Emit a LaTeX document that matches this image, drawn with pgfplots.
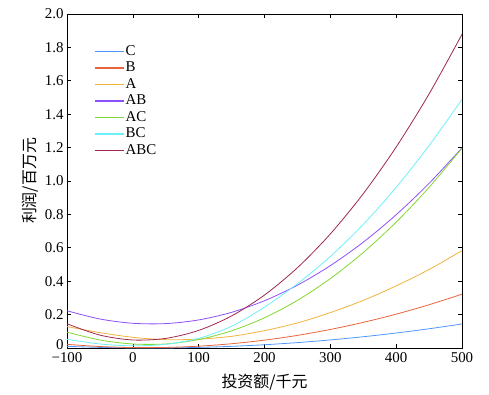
\documentclass[border=0pt]{standalone}
\usepackage{fontspec}
\setmainfont{Liberation Serif}
\newfontfamily\cjk{Noto Sans CJK SC}
\usepackage{pgfplots}
\pgfplotsset{compat=1.18}
\definecolor{cC}{RGB}{80,150,255}
\definecolor{cB}{RGB}{232,100,60}
\definecolor{cA}{RGB}{242,178,60}
\definecolor{cAB}{RGB}{140,80,250}
\definecolor{cAC}{RGB}{130,215,50}
\definecolor{cBC}{RGB}{110,240,250}
\definecolor{cABC}{RGB}{160,40,75}
\begin{document}
\begin{tikzpicture}
\begin{axis}[
  name=ax,
  scale only axis, width=395bp, height=334bp,
  xmin=-100, xmax=500, ymin=0, ymax=2,
  xtick={-100,0,100,200,300,400,500},
  xticklabels={−100,0,100,200,300,400,500},
  ytick={0,0.2,0.4,0.6,0.8,1.0,1.2,1.4,1.6,1.8,2.0},
  yticklabels={\smash{\raisebox{-1bp}{0}},0.2,0.4,0.6,0.8,1.0,1.2,1.4,1.6,1.8,2.0},
  tick align=inside, major tick length=4bp,
  tick style={black, line width=0.6bp},
  axis line style={line width=0.8bp},
  font=\fontsize{15}{17}\selectfont,
  xticklabel style={yshift=-1.5bp},
  xlabel={\cjk\fontsize{16}{18}\selectfont 投资额/千元}, ylabel={\cjk\fontsize{16}{18}\selectfont 利润/百万元},
  xlabel style={yshift=-4bp},
  legend cell align=left,
  legend style={draw=none, fill=none, at={(0.06,0.918)}, anchor=north west,
    font=\fontsize{15}{17}\selectfont,
    nodes={inner sep=1bp, text height=10.5bp, text depth=4bp}, row sep=0pt},
  legend image code/.code={\draw[#1, line width=1.7bp] (0bp,0.25bp) -- (29bp,0.25bp);},
  every axis plot/.append style={line width=0.8bp, smooth, no marks},
]
\addplot[cC] coordinates {(-100,0.010) (-50,0.0036) (0,0.0004) (50,0.0004) (100,0.0036) (150,0.010) (200,0.0195) (250,0.0323) (300,0.0483) (350,0.0674) (400,0.0897) (450,0.1152) (500,0.144)};
\addlegendentry{C}
\addplot[cB] coordinates {(-100,0.022) (-50,0.0088) (0,0.0026) (50,0.0033) (100,0.0109) (150,0.0255) (200,0.047) (250,0.0755) (300,0.111) (350,0.1534) (400,0.2027) (450,0.259) (500,0.3223)};
\addlegendentry{B}
\addplot[cA] coordinates {(-100,0.128) (-50,0.092) (0,0.064) (50,0.050) (100,0.053) (150,0.070) (200,0.104) (250,0.150) (300,0.212) (350,0.285) (400,0.372) (450,0.470) (500,0.583)};
\addlegendentry{A}
\addplot[cAB] coordinates {(-100,0.223) (-50,0.1736) (0,0.148) (50,0.1461) (100,0.168) (150,0.2136) (200,0.283) (250,0.3761) (300,0.493) (350,0.6336) (400,0.798) (450,0.9861) (500,1.198)};
\addlegendentry{AB}
\addplot[cAC] coordinates {(-100,0.095) (-50,0.048) (0,0.024) (50,0.0243) (100,0.0505) (150,0.1028) (200,0.181) (250,0.2852) (300,0.4154) (350,0.5716) (400,0.7538) (450,0.962) (500,1.196)};
\addlegendentry{AC}
\addplot[cBC] coordinates {(-100,0.052) (-50,0.024) (0,0.013) (50,0.022) (100,0.058) (150,0.130) (200,0.245) (250,0.385) (300,0.548) (350,0.740) (400,0.962) (450,1.212) (500,1.489)};
\addlegendentry{BC}
\addplot[cABC] coordinates {(-100,0.145) (-50,0.0772) (0,0.048) (50,0.0574) (100,0.1053) (150,0.1919) (200,0.317) (250,0.4807) (300,0.683) (350,0.9239) (400,1.2034) (450,1.5215) (500,1.878)};
\addlegendentry{ABC}
\end{axis}
\path (ax.south west) ++(-67bp,-47bp) rectangle ([shift={(27bp,14bp)}]ax.north east);
\end{tikzpicture}
\end{document}
